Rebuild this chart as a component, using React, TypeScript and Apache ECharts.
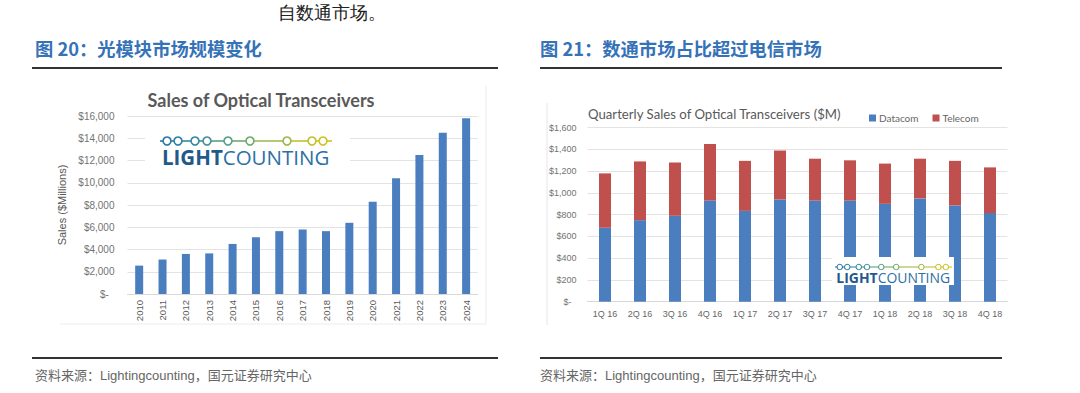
import React, { useEffect, useRef } from "react";
import * as echarts from "echarts";

const years = ["2010", "2011", "2012", "2013", "2014", "2015", "2016", "2017", "2018", "2019", "2020", "2021", "2022", "2023", "2024"];
const annualSales = [2550, 3100, 3600, 3650, 4500, 5100, 5650, 5800, 5650, 6400, 8300, 10400, 12500, 14500, 15800];

const quarters = ["1Q 16", "2Q 16", "3Q 16", "4Q 16", "1Q 17", "2Q 17", "3Q 17", "4Q 17", "1Q 18", "2Q 18", "3Q 18", "4Q 18"];
const datacom = [680, 750, 790, 930, 835, 940, 930, 930, 900, 950, 885, 815];
const telecom = [500, 540, 490, 520, 460, 450, 385, 370, 370, 365, 410, 420];

const fmtMoney = (v: number) => (v === 0 ? "$-\u00a0\u00a0" : "$" + v.toLocaleString("en-US"));

const logoDots = [7, 18, 35, 47, 68, 90, 127, 152, 163];
const logoColors = ["#2a78a8", "#2d80a6", "#3689a2", "#41909c", "#56a086", "#70aa6c", "#9db84c", "#c3c030", "#cfc420"];

function logo(x: number, y: number, s: number, z: number, padL: number, padR: number, top: number, h: number) {
  const children: any[] = [];
  const w = 172 * s;
  children.push({ type: "rect", z, shape: { x: -padL, y: -top, width: w + padL + padR, height: h }, style: { fill: "#ffffff" } });
  for (let i = 0; i < logoDots.length; i++) {
    const x0 = i === 0 ? 0 : logoDots[i - 1] * s;
    const x1 = logoDots[i] * s;
    children.push({ type: "line", z: z + 1, shape: { x1: x0, y1: 0, x2: x1, y2: 0 }, style: { stroke: logoColors[i], lineWidth: 1.6 * s } });
  }
  children.push({ type: "line", z: z + 1, shape: { x1: logoDots[logoDots.length - 1] * s, y1: 0, x2: w, y2: 0 }, style: { stroke: logoColors[logoColors.length - 1], lineWidth: 1.6 * s } });
  for (let i = 0; i < logoDots.length; i++) {
    children.push({ type: "circle", z: z + 2, shape: { cx: logoDots[i] * s, cy: 0, r: 4 * s }, style: { fill: "#fff", stroke: logoColors[i], lineWidth: 1.6 * s } });
  }
  children.push({
    type: "text",
    z: z + 2,
    x: 2 * s,
    y: 16 * s,
    style: {
      text: "{b|LIGHT}{n|COUNTING}",
      verticalAlign: "middle",
      rich: {
        b: { fontFamily: "Open Sans", fontWeight: "bold", fontSize: 20.5 * s, fill: "#1f5a8a" },
        n: { fontFamily: "Open Sans", fontWeight: "normal", fontSize: 20.5 * s, fill: "#2c70a4" },
      },
    },
  });
  return { type: "group", x, y, z, children };
}

export default function App() {
  const ref = useRef<HTMLDivElement>(null);
  useEffect(() => {
    document.body.style.margin = "0";
    const chart = echarts.init(ref.current!, undefined, { renderer: "svg" });
    const cjk = "'Noto Sans CJK SC', sans-serif";
    const titleBlue = "#3572b8";
    chart.setOption({
      animation: false,
      backgroundColor: "#ffffff",
      legend: {
        left: 864,
        top: 108,
        itemWidth: 7,
        itemHeight: 7,
        itemGap: 14,
        icon: "rect",
        textStyle: { fontSize: 10, color: "#666", fontFamily: "Lato", padding: [0, 0, 0, -2] },
        data: ["Datacom", "Telecom"],
      },
      grid: [
        { left: 127.5, top: 116, width: 350.3, height: 178 },
        { left: 587.5, top: 127.7, width: 420, height: 174 },
      ],
      xAxis: [
        {
          type: "category",
          gridIndex: 0,
          data: years,
          axisLine: { lineStyle: { color: "#d9d9d9" } },
          axisTick: { show: false },
          axisLabel: { rotate: 90, fontSize: 9.5, color: "#595959", margin: 6, fontFamily: "Liberation Sans" },
        },
        {
          type: "category",
          gridIndex: 1,
          data: quarters,
          axisLine: { lineStyle: { color: "#d9d9d9" } },
          axisTick: { show: false },
          axisLabel: { fontSize: 9, color: "#666", margin: 8, fontFamily: "Liberation Sans" },
        },
      ],
      yAxis: [
        {
          type: "value",
          gridIndex: 0,
          min: 0,
          max: 16000,
          interval: 2000,
          name: "Sales ($Millions)",
          nameLocation: "middle",
          nameGap: 60,
          nameTextStyle: { fontSize: 11, color: "#595959", fontFamily: "Liberation Sans" },
          axisLine: { show: false },
          axisTick: { show: false },
          splitLine: { lineStyle: { color: "#e3e3e3" } },
          axisLabel: { formatter: fmtMoney, fontSize: 10, color: "#737373", margin: 13, fontFamily: "Liberation Sans" },
        },
        {
          type: "value",
          gridIndex: 1,
          min: 0,
          max: 1600,
          interval: 200,
          axisLine: { show: false },
          axisTick: { show: false },
          splitLine: { lineStyle: { color: "#e3e3e3" } },
          axisLabel: { formatter: fmtMoney, fontSize: 9, color: "#737373", margin: 11, fontFamily: "Liberation Sans" },
        },
      ],
      series: [
        {
          type: "bar",
          xAxisIndex: 0,
          yAxisIndex: 0,
          data: annualSales,
          barWidth: 8,
          itemStyle: { color: "#4a7ebf" },
        },
        {
          name: "Datacom",
          type: "bar",
          xAxisIndex: 1,
          yAxisIndex: 1,
          stack: "q",
          data: datacom,
          barWidth: 12,
          itemStyle: { color: "#4a7ebf" },
        },
        {
          name: "Telecom",
          type: "bar",
          xAxisIndex: 1,
          yAxisIndex: 1,
          stack: "q",
          data: telecom,
          barWidth: 12,
          itemStyle: { color: "#c0504d" },
        },
      ],
      graphic: [
        {
          type: "text",
          x: 278,
          y: 13,
          style: { text: "自数通市场。", fontSize: 17.5, fill: "#222", fontFamily: "serif", verticalAlign: "middle" },
        },
        {
          type: "text",
          x: 35,
          y: 48,
          style: { text: "图 20：光模块市场规模变化", fontSize: 18.3, fontWeight: "bold", fill: titleBlue, fontFamily: cjk, verticalAlign: "middle" },
        },
        {
          type: "text",
          x: 540,
          y: 48,
          style: { text: "图 21：数通市场占比超过电信市场", fontSize: 18.3, fontWeight: "bold", fill: titleBlue, fontFamily: cjk, verticalAlign: "middle" },
        },
        { type: "line", shape: { x1: 32, y1: 68, x2: 498, y2: 68 }, style: { stroke: "#333", lineWidth: 2 } },
        { type: "line", shape: { x1: 540, y1: 68, x2: 1002, y2: 68 }, style: { stroke: "#333", lineWidth: 2 } },
        { type: "line", shape: { x1: 32, y1: 358, x2: 498, y2: 358 }, style: { stroke: "#333", lineWidth: 2 } },
        { type: "line", shape: { x1: 540, y1: 358, x2: 1002, y2: 358 }, style: { stroke: "#333", lineWidth: 2 } },
        {
          type: "text",
          x: 35,
          y: 375,
          style: { text: "资料来源：Lightingcounting，国元证券研究中心", fontSize: 13, fill: "#666", fontFamily: "'Liberation Sans', 'Noto Sans CJK SC'", verticalAlign: "middle" },
        },
        {
          type: "text",
          x: 540,
          y: 375,
          style: { text: "资料来源：Lightingcounting，国元证券研究中心", fontSize: 13, fill: "#666", fontFamily: "'Liberation Sans', 'Noto Sans CJK SC'", verticalAlign: "middle" },
        },
        { type: "line", shape: { x1: 486, y1: 86, x2: 486, y2: 324 }, style: { stroke: "#ececec", lineWidth: 1 } },
        { type: "line", shape: { x1: 60, y1: 324, x2: 486, y2: 324 }, style: { stroke: "#ececec", lineWidth: 1 } },
        { type: "line", shape: { x1: 547, y1: 103, x2: 547, y2: 325 }, style: { stroke: "#e6e6e6", lineWidth: 1 } },
        {
          type: "text",
          x: 261,
          y: 100,
          style: { text: "Sales of Optical Transceivers", fontSize: 18, fontWeight: "bold", fill: "#595959", fontFamily: "Lato", align: "center", verticalAlign: "middle" },
        },
        {
          type: "text",
          x: 588,
          y: 114,
          style: { text: "Quarterly Sales of Optical Transceivers ($M)", fontSize: 13.2, fill: "#595959", fontFamily: "Lato", verticalAlign: "middle" },
        },
        logo(160, 141, 1, 10, 15, 18, 12, 42),
        logo(835, 267, 0.68, 100, 3, 2, 10, 28),
      ],
    });
    return () => chart.dispose();
  }, []);
  return <div ref={ref} style={{ width: 1080, height: 393 }} />;
}
